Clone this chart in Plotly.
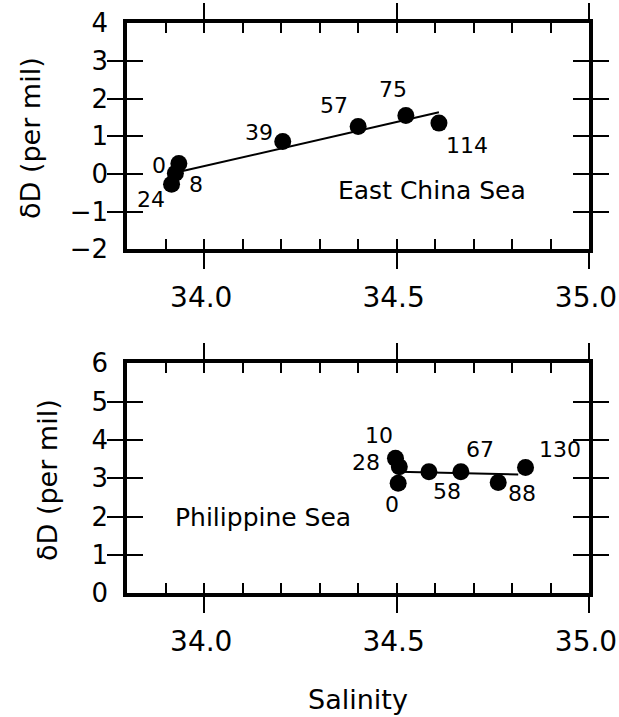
import plotly.graph_objects as go

# ---------------- data ----------------
ecs_salinity = [33.934, 33.925, 33.915, 34.204, 34.400, 34.524, 34.610]
ecs_dD = [0.28, 0.02, -0.27, 0.86, 1.26, 1.55, 1.35]
ecs_depth = ["0", "8", "24", "39", "57", "75", "114"]
ecs_fit_salinity = [33.941, 34.610]
ecs_fit_dD = [0.07, 1.64]

ps_salinity = [34.504, 34.497, 34.507, 34.584, 34.667, 34.764, 34.835]
ps_dD = [2.87, 3.52, 3.30, 3.17, 3.17, 2.89, 3.28]
ps_depth = ["0", "10", "28", "58", "67", "88", "130"]
ps_fit_salinity = [34.504, 34.816]
ps_fit_dD = [3.17, 3.10]

x_tickvals = [34.0, 34.5, 35.0]
x_ticktext = ["34.0", "34.5", "35.0"]
x_minor_tickvals = [33.8, 33.9, 34.0, 34.1, 34.2, 34.3, 34.4, 34.5, 34.6, 34.7, 34.8, 34.9, 35.0]

# label offsets in pixels (right, down) - layout only
ecs_offsets = [(-20, 2), (21, 11), (-21, 15), (-24, -9), (-24, -21), (-13, -26), (28, 22)]
ps_offsets = [(-6, 21), (-16, -23), (-33, -4), (18, 20), (19, -22), (24, 11), (34, -18)]

W, H = 619, 717
FONT = "DejaVu Sans"
BLACK = "#000000"

fig = go.Figure()

# top panel
fig.add_trace(go.Scatter(x=ecs_salinity, y=ecs_dD, mode="markers",
                         marker=dict(size=17, color=BLACK), xaxis="x", yaxis="y",
                         showlegend=False, hoverinfo="skip"))
fig.add_trace(go.Scatter(x=ecs_fit_salinity, y=ecs_fit_dD, mode="lines",
                         line=dict(color=BLACK, width=2), xaxis="x3", yaxis="y",
                         showlegend=False, hoverinfo="skip"))
# bottom panel
fig.add_trace(go.Scatter(x=ps_salinity, y=ps_dD, mode="markers",
                         marker=dict(size=17, color=BLACK), xaxis="x2", yaxis="y2",
                         showlegend=False, hoverinfo="skip"))
fig.add_trace(go.Scatter(x=ps_fit_salinity, y=ps_fit_dD, mode="lines",
                         line=dict(color=BLACK, width=2), xaxis="x4", yaxis="y2",
                         showlegend=False, hoverinfo="skip"))

xdom = [127.3 / W, 589.0 / W]
ydom_top = [1 - 249.3 / H, 1 - 23.3 / H]
ydom_bot = [1 - 593.3 / H, 1 - 363.3 / H]
xr = [33.8, 35.0]

def main_x(anchor):
    return dict(domain=xdom, range=xr, anchor=anchor, showline=True, linewidth=4,
                linecolor=BLACK, mirror="allticks", ticks="outside", ticklen=16,
                tickwidth=2, tickcolor=BLACK, tickmode="array", tickvals=x_tickvals,
                ticktext=x_ticktext, tickfont=dict(family=FONT, size=28, color=BLACK),
                ticklabelstandoff=4, ticklabelshift=-3, ticklabeloverflow="allow",
                showgrid=False, zeroline=False, automargin=False, fixedrange=True)

def overlay_x(anchor, over):
    return dict(overlaying=over, range=xr, anchor=anchor, showline=True, linewidth=4,
                linecolor=BLACK, mirror="allticks", ticks="inside", ticklen=10,
                tickwidth=2, tickcolor=BLACK, tickmode="array", tickvals=x_minor_tickvals,
                showticklabels=False, showgrid=False, zeroline=False, automargin=False,
                fixedrange=True)

def main_y(anchor, dom, rng):
    return dict(domain=dom, range=rng, anchor=anchor, showline=True, linewidth=4,
                linecolor=BLACK, mirror="allticks", ticks="inside", ticklen=16,
                tickwidth=2, tickcolor=BLACK, dtick=1, tick0=0,
                tickfont=dict(family=FONT, size=26, color=BLACK),
                ticklabelstandoff=10, ticklabeloverflow="allow",
                showgrid=False, zeroline=False, automargin=False, fixedrange=True)

annotations = []
for s, d, t, (dx, dy) in zip(ecs_salinity, ecs_dD, ecs_depth, ecs_offsets):
    annotations.append(dict(x=s, y=d, xref="x", yref="y", text=t, showarrow=False,
                            xshift=dx, yshift=-dy, xanchor="center", yanchor="middle",
                            font=dict(family=FONT, size=22, color=BLACK)))
for s, d, t, (dx, dy) in zip(ps_salinity, ps_dD, ps_depth, ps_offsets):
    annotations.append(dict(x=s, y=d, xref="x2", yref="y2", text=t, showarrow=False,
                            xshift=dx, yshift=-dy, xanchor="center", yanchor="middle",
                            font=dict(family=FONT, size=22, color=BLACK)))

annotations.append(dict(x=34.591, y=-0.45, xref="x", yref="y", text="East China Sea",
                        showarrow=False, xanchor="center", yanchor="middle",
                        font=dict(family=FONT, size=25, color=BLACK)))
annotations.append(dict(x=34.153, y=1.98, xref="x2", yref="y2", text="Philippine Sea",
                        showarrow=False, xanchor="center", yanchor="middle",
                        font=dict(family=FONT, size=25, color=BLACK)))

# axis titles
annotations.append(dict(x=31 / W, y=1 - 138 / H, xref="paper", yref="paper",
                        text="δD (per mil)", textangle=-90, showarrow=False,
                        xanchor="center", yanchor="middle",
                        font=dict(family=FONT, size=27, color=BLACK)))
annotations.append(dict(x=47 / W, y=1 - 480 / H, xref="paper", yref="paper",
                        text="δD (per mil)", textangle=-90, showarrow=False,
                        xanchor="center", yanchor="middle",
                        font=dict(family=FONT, size=27, color=BLACK)))
annotations.append(dict(x=358 / W, y=1 - 699 / H, xref="paper", yref="paper",
                        text="Salinity", showarrow=False,
                        xanchor="center", yanchor="middle",
                        font=dict(family=FONT, size=27, color=BLACK)))

fig.update_layout(
    template="none",
    width=W, height=H,
    margin=dict(l=0, r=0, t=0, b=0),
    paper_bgcolor="white", plot_bgcolor="white",
    font=dict(family=FONT, color=BLACK),
    showlegend=False,
    xaxis=main_x("y"),
    xaxis2=main_x("y2"),
    xaxis3=overlay_x("y", "x"),
    xaxis4=overlay_x("y2", "x2"),
    yaxis=main_y("x", ydom_top, [-2, 4]),
    yaxis2=main_y("x2", ydom_bot, [0, 6]),
    annotations=annotations,
)

fig.write_html("out.html", config={"displayModeBar": False})
